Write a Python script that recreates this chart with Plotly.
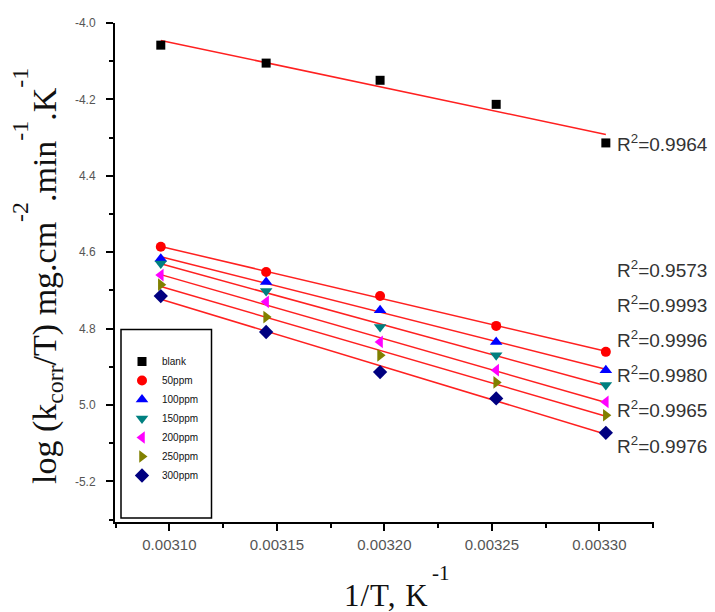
import numpy as np
import plotly.graph_objects as go

# ---------------- data ----------------
inv_T = [0.003096, 0.003145, 0.003198, 0.003252, 0.003303]

series_names = ["blank", "50ppm", "100ppm", "150ppm", "200ppm", "250ppm", "300ppm"]
blank = [-4.058, -4.105, -4.150, -4.213, -4.314]
ppm50 = [-4.586, -4.652, -4.715, -4.793, -4.861]
ppm100 = [-4.617, -4.678, -4.752, -4.835, -4.909]
ppm150 = [-4.630, -4.702, -4.796, -4.870, -4.948]
ppm200 = [-4.660, -4.730, -4.835, -4.909, -4.992]
ppm250 = [-4.685, -4.770, -4.870, -4.941, -5.027]
ppm300 = [-4.715, -4.809, -4.914, -4.983, -5.073]

r2_values = ["0.9964", "0.9573", "0.9993", "0.9996", "0.9980", "0.9965", "0.9976"]

x_tick_vals = [0.00310, 0.00315, 0.00320, 0.00325, 0.00330]
x_tick_text = ["0.00310", "0.00315", "0.00320", "0.00325", "0.00330"]
y_tick_vals = [-4.0, -4.2, -4.4, -4.6, -4.8, -5.0, -5.2]
y_tick_text = ["-4.0", "-4.2", "4.4", "4.6", "4.8", "5.0", "-5.2"]

# ---------------- styles / layout ----------------
all_series = [blank, ppm50, ppm100, ppm150, ppm200, ppm250, ppm300]
symbols = ["square", "circle", "triangle-up", "triangle-down", "triangle-left", "triangle-right", "diamond"]
colors = ["#000000", "#ff0000", "#0000ff", "#008080", "#ff00ff", "#808000", "#000080"]
sizes = [9, 10, 11, 11, 11, 11, 11]

W, H = 715, 612
ML, MR, MT, MB = 115, 61, 23, 90
PW, PH = W - ML - MR, H - MT - MB


def px_x(px):
    return (px - ML) / PW


def px_y(py):
    return (H - MB - py) / PH


r2_label_y_px = [143, 269, 304, 339, 374, 409, 445]

fig = go.Figure()

x_arr = np.array(inv_T)
# fitted lines
for ys in all_series:
    k, b = np.polyfit(x_arr, np.array(ys), 1)
    fit_x = [inv_T[0], inv_T[-1]]
    fig.add_trace(go.Scatter(
        x=fit_x, y=[k * v + b for v in fit_x], mode="lines",
        line=dict(color="#ff2020", width=1.5), showlegend=False, hoverinfo="skip"))

# markers
for name, ys, sym, col, sz in zip(series_names, all_series, symbols, colors, sizes):
    fig.add_trace(go.Scatter(
        x=inv_T, y=ys, mode="markers", name=name,
        marker=dict(symbol=sym, color=col, size=sz, line=dict(width=0))))

annotations = []
for r2, py in zip(r2_values, r2_label_y_px):
    annotations.append(dict(
        xref="paper", yref="paper", x=px_x(615), y=px_y(py),
        xanchor="left", yanchor="middle", showarrow=False,
        text="R<sup>2</sup>=" + r2,
        font=dict(family="Liberation Sans, Arial", size=19, color="#333333")))

SUP = '<sup><span style="baseline-shift:14px">{}</span></sup>'
# y title
annotations.append(dict(
    xref="paper", yref="paper", x=px_x(37), y=px_y(276),
    xanchor="center", yanchor="middle", showarrow=False, textangle=-90,
    text="log (k<sub>corr</sub>/T) mg.cm" + SUP.format("-2") + ".min" + SUP.format("-1")
         + ".K" + SUP.format("-1"),
    font=dict(family="Liberation Serif, Times New Roman", size=34, color="#111111")))
# x title
annotations.append(dict(
    xref="paper", yref="paper", x=px_x(386), y=px_y(595),
    xanchor="center", yanchor="middle", showarrow=False,
    text='<span style="letter-spacing:1px">1/T, K</span>',
    font=dict(family="Liberation Serif, Times New Roman", size=31, color="#111111")))
annotations.append(dict(
    xref="paper", yref="paper", x=px_x(441), y=px_y(573),
    xanchor="center", yanchor="middle", showarrow=False,
    text="-1",
    font=dict(family="Liberation Serif, Times New Roman", size=21, color="#111111")))

shapes = [dict(type="rect", xref="paper", yref="paper",
               x0=px_x(121), x1=px_x(211.5), y0=px_y(518), y1=px_y(329.5),
               line=dict(color="black", width=1.5), fillcolor="rgba(0,0,0,0)")]

fig.update_layout(
    width=W, height=H, autosize=False,
    margin=dict(l=ML, r=MR, t=MT, b=MB),
    plot_bgcolor="white", paper_bgcolor="white",
    showlegend=True,
    legend=dict(x=px_x(122), y=px_y(347), xanchor="left", yanchor="top",
                bgcolor="rgba(0,0,0,0)", borderwidth=0,
                font=dict(family="Liberation Sans, Arial", size=10, color="#111111"),
                itemwidth=30, tracegroupgap=0),
    annotations=annotations,
    shapes=shapes,
)

fig.update_xaxes(
    range=[0.0030747, 0.0033254], showgrid=False, zeroline=False,
    showline=True, linecolor="black", linewidth=2, mirror=False,
    ticks="outside", ticklen=7, tickwidth=1.5, tickcolor="black",
    tickmode="array", tickvals=x_tick_vals, ticktext=x_tick_text,
    ticklabelstandoff=1,
    tickfont=dict(family="Liberation Sans, Arial", size=15, color="#555555"),
    minor=dict(tickmode="array",
               tickvals=[0.003075, 0.003125, 0.003175, 0.003225, 0.003275, 0.003325],
               ticks="outside", ticklen=4, tickwidth=1.5, tickcolor="black"),
)
fig.update_yaxes(
    range=[-5.3065, -4.0], showgrid=False, zeroline=False,
    showline=True, linecolor="black", linewidth=2, mirror=False,
    ticks="outside", ticklen=7, tickwidth=1.5, tickcolor="black",
    tickmode="array", tickvals=y_tick_vals, ticktext=y_tick_text,
    ticklabelstandoff=8,
    tickfont=dict(family="Liberation Sans, Arial", size=12, color="#555555"),
    minor=dict(tickmode="array",
               tickvals=[-4.1, -4.3, -4.5, -4.7, -4.9, -5.1, -5.3],
               ticks="outside", ticklen=4, tickwidth=1.5, tickcolor="black"),
)

fig.write_html("out.html", config={"displayModeBar": False},
               post_script="document.body.style.margin='0';document.body.style.overflow='hidden';")
